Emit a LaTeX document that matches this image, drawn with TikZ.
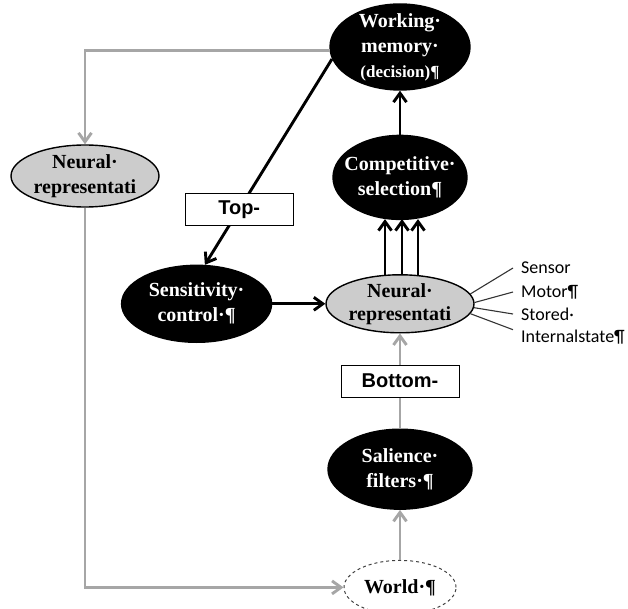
\documentclass[tikz,border=0pt]{standalone}
\usepackage{fontspec}
\setmainfont{Liberation Serif}
\newfontfamily\tagfont{Liberation Sans}
\newfontfamily\notefont{Carlito}
\usetikzlibrary{arrows.meta,positioning,shapes.geometric,calc}
\definecolor{linegray}{RGB}{166,166,166}
\definecolor{fillgray}{RGB}{204,204,204}

\begin{document}
\begin{tikzpicture}[
  x=1pt, y=1pt,
  font=\bfseries\fontsize{20}{25}\selectfont,
  ell/.style={ellipse, draw=black, line width=1.4pt, align=center, inner xsep=-10pt, inner ysep=-8pt},
  dark/.style={ell, fill=black, text=white},
  light/.style={ell, fill=fillgray},
  worldell/.style={ell, dashed, draw=black!75, line width=1pt, fill=white},
  tag/.style={draw=black, line width=0.9pt, fill=white, font=\tagfont\bfseries\fontsize{20}{24}\selectfont, minimum width=108pt, minimum height=32pt, inner sep=0pt},
  note/.style={anchor=west, inner ysep=0pt, inner xsep=8pt, font=\notefont\fontsize{18}{22}\selectfont},
  arrow/.style={-{Straight Barb[length=9pt,width=13pt]}, line width=2.9pt},
  grayarrow/.style={arrow, draw=linegray},
  notelink/.style={line width=1.1pt, draw=black!80}
]
\useasboundingbox (0,0) rectangle (628,-609);

% main column
\node[dark, minimum width=140pt, minimum height=86pt] (work) at (400,-47) {
  Working·\\memory·\\{\fontsize{17}{20}\selectfont(decision)¶}
};
\node[dark, minimum width=134pt, minimum height=84pt, below=44pt of work] (comp) {
  Competitive·\\selection¶
};
\node[light, minimum width=148pt, minimum height=58pt, font=\bfseries\fontsize{20}{23}\selectfont, below=54pt of comp] (neurc) {
  Neural·\\representati
};
\node[dark, minimum width=144pt, minimum height=80pt, below=95pt of neurc] (sal) {
  Salience·\\filters·¶
};
\node[worldell, minimum width=112pt, minimum height=54pt, below=50pt of sal] (world) {World·¶};

% side nodes
\node[dark, minimum width=150pt, minimum height=77pt, left=53pt of neurc] (sens) {
  Sensitivity·\\control·¶
};
\node[light, minimum width=148pt, minimum height=62pt] (neurl) at (85,-176) {
  Neural·\\representati
};

% kinds of representation
\node[note] (sensor) at (513,-268) {Sensor};
\node[note] (motor) at (513,-292) {Motor¶};
\node[note] (stored) at (513,-314) {Stored·};
\node[note] (internal) at (513,-337) {Internalstate¶};

\draw[notelink] (neurc.8) -- (sensor.west);
\draw[notelink] (neurc.1) -- (motor.west);
\draw[notelink] (neurc.-3) -- (stored.west);
\draw[notelink] (neurc.-8) -- (internal.north west);

% black connectors
\draw[arrow] (comp) -- (work);
\foreach \dx in {-15,2,18}
  \draw[arrow] ($(neurc.north)+(\dx,-1)$) -- ($(comp.south)+(\dx,1)$);
\draw[arrow] (sens) -- (neurc);
\draw[arrow] (work.190) -- node[tag, pos=0.73] (top) {Top-} (sens.78);

% gray connectors
\draw[grayarrow] (work.183) -| (neurl.north);
\draw[grayarrow] (neurl.south) |- (world.west);
\draw[grayarrow] (world) -- (sal);
\draw[grayarrow] (sal) -- node[tag, minimum width=118pt] (bottom) {Bottom-} (neurc);

\end{tikzpicture}
\end{document}
